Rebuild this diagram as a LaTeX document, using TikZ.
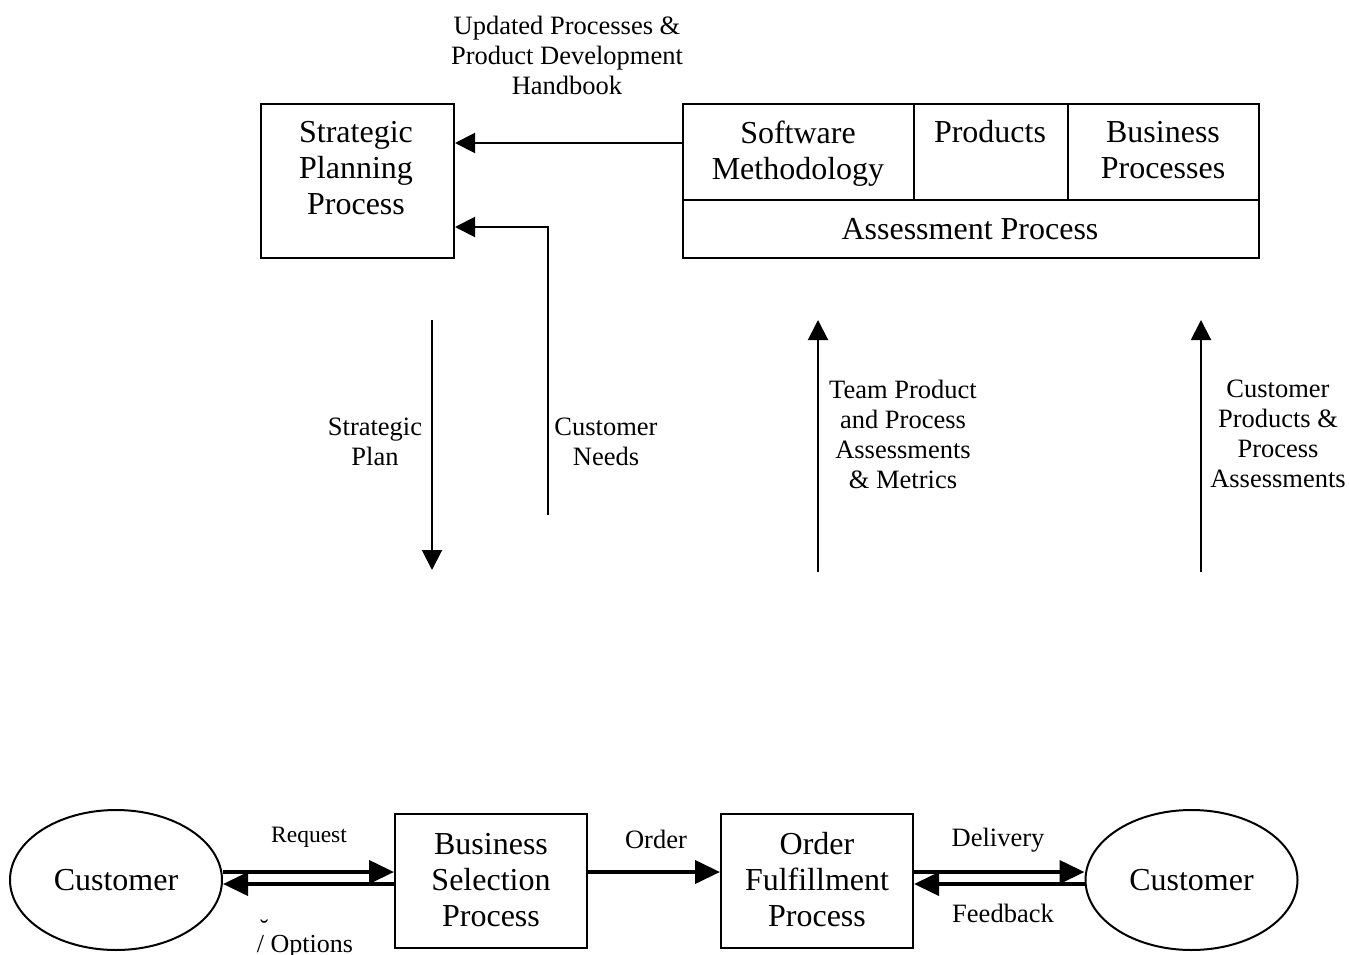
\documentclass[tikz,border=0pt]{standalone}
\usepackage{fontspec}
\setmainfont{Liberation Serif}
\usetikzlibrary{arrows.meta,shapes.geometric,calc}

\tikzset{
  x=1pt, y=-1pt,
  box/.style={draw, line width=2pt, rectangle, inner sep=0pt},
  cust/.style={draw, line width=2pt, ellipse, inner sep=0pt,
    minimum width=212pt, minimum height=140pt,
    font=\fontsize{32}{36}\selectfont},
  bigtxt/.style={align=center, inner sep=0pt, font=\fontsize{32}{36}\selectfont},
  midtxt/.style={align=center, inner sep=0pt, font=\fontsize{26.5}{30}\selectfont},
  thinarr/.style={line width=2pt, -{Triangle[length=20pt,width=20pt]}},
  thickarr/.style={line width=4pt, -{Triangle[length=25pt,width=23pt]}},
}

\begin{document}
\begin{tikzpicture}
\useasboundingbox (0,0) rectangle (1349,955);

% ---- planning layer ----
\node[box, anchor=north west, minimum width=193pt, minimum height=154pt] (spp) at (260,103) {};
\node[bigtxt] (spptxt) at (356,168) {Strategic\\Planning\\Process};

% assessment block: three upper cells over one wide cell
\node[box, anchor=north west, minimum width=231pt, minimum height=96pt] (sm) at (682,103) {};
\node[box, anchor=north west, minimum width=154pt, minimum height=96pt] (pr) at (913,103) {};
\node[box, anchor=north west, minimum width=191pt, minimum height=96pt] (bp) at (1067,103) {};
\node[box, anchor=north west, minimum width=576pt, minimum height=58pt] (ap) at (682,199) {};
\node[bigtxt] at (798,153.5) {Software\\Methodology};
\node[bigtxt] at (990,132) {Products};
\node[bigtxt] at (1163,150) {Business\\Processes};
\node[bigtxt] at (970,229) {Assessment Process};

\node[midtxt] at (567,55) {Updated Processes \&\\Product Development\\Handbook};

% feedback into strategic planning
\draw[thinarr] ($(sm.north west)+(0,40)$) -- ($(spp.north east)+(0,40)$);
\coordinate (cnstart) at (548,515);
\draw[thinarr] (cnstart) |- ($(spp.north east)+(0,124)$);
\node[midtxt] at (606,442) {Customer\\Needs};

% vertical flows
\coordinate (spA) at (432,320);
\coordinate (spB) at (432,570);
\draw[thinarr] (spA) -- (spB);
\node[midtxt] at (375,442) {Strategic\\Plan};

\coordinate (tpA) at (818,572);
\coordinate (tpB) at (818,320);
\draw[thinarr] (tpA) -- (tpB);
\node[midtxt] at (903,434) {Team Product\\and Process\\Assessments\\\& Metrics};

\coordinate (cpA) at (1201,572);
\coordinate (cpB) at (1201,320);
\draw[thinarr] (cpA) -- (cpB);
\node[midtxt] at (1278,434) {Customer\\Products \&\\Process\\Assessments};

% ---- order chain ----
\node[cust] (cl) at (116,880) {Customer};
\node[box, minimum width=192pt, minimum height=134pt] (bsp) at (491,881) {};
\node[bigtxt] at (491,880) {Business\\Selection\\Process};
\node[box, minimum width=192pt, minimum height=134pt] (ofp) at (817,881) {};
\node[bigtxt] at (817,880) {Order\\Fulfillment\\Process};
\node[cust] (cr) at (1191.5,880) {Customer};

\draw[thickarr] ($(cl.east)+(0,-8)$) -- ($(bsp.west |- cl.east)+(0,-8)$);
\draw[thickarr] ($(bsp.west |- cl.east)+(0,4)$) -- ($(cl.east)+(0,4)$);
\node[inner sep=0pt, font=\fontsize{23.5}{27}\selectfont] at (309,837) {Request};
\node[inner sep=0pt, font=\fontsize{26}{30}\selectfont] at (305,939)
  {\makebox[0pt][l]{\raisebox{0.6em}{\kern3pt\char"02D8}}/ Options};

\draw[thickarr] ($(bsp.east |- cl.east)+(0,-8)$) -- ($(ofp.west |- cl.east)+(0,-8)$);
\node[midtxt] at (656,839) {Order};

\draw[thickarr] ($(ofp.east |- cr.west)+(0,-8)$) -- ($(cr.west)+(0,-8)$);
\draw[thickarr] ($(cr.west)+(0,4)$) -- ($(ofp.east |- cr.west)+(0,4)$);
\node[midtxt] at (998,840) {Delivery};
\node[midtxt] at (1003,913) {Feedback};
\end{tikzpicture}
\end{document}
